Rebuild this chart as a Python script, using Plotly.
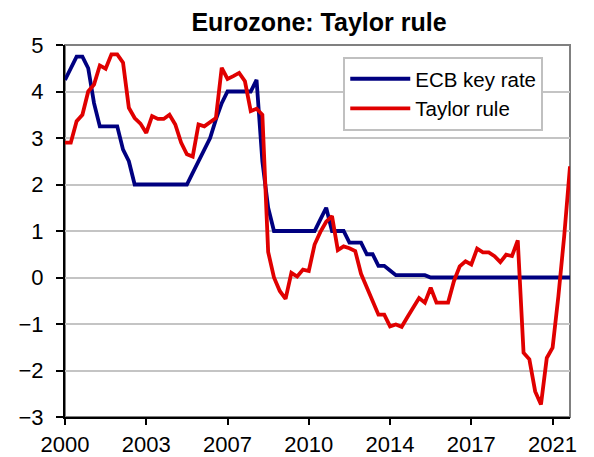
import plotly.graph_objects as go

# Quarterly observations, first quarter of 2000 onward (index = quarter number)
ecb_key_rate = [4.25, 4.5, 4.75, 4.75, 4.5, 3.75, 3.25, 3.25, 3.25, 3.25,
                2.75, 2.5, 2.0, 2.0, 2.0, 2.0, 2.0, 2.0, 2.0, 2.0,
                2.0, 2.0, 2.25, 2.5, 2.75, 3.0, 3.4, 3.75, 4.0, 4.0,
                4.0, 4.0, 4.0, 4.25, 2.5, 1.5, 1.0, 1.0, 1.0, 1.0,
                1.0, 1.0, 1.0, 1.0, 1.25, 1.5, 1.0, 1.0, 1.0, 0.75,
                0.75, 0.75, 0.5, 0.5, 0.25, 0.25, 0.15, 0.05, 0.05, 0.05,
                0.05, 0.05, 0.05, 0.0, 0.0, 0.0, 0.0, 0.0, 0.0, 0.0,
                0.0, 0.0, 0.0, 0.0, 0.0, 0.0, 0.0, 0.0, 0.0, 0.0,
                0.0, 0.0, 0.0, 0.0, 0.0, 0.0, 0.0, 0.0]

taylor_rule = [2.9, 2.9, 3.36, 3.5, 4.0, 4.15, 4.56, 4.49, 4.8, 4.8,
               4.62, 3.65, 3.43, 3.31, 3.11, 3.47, 3.41, 3.41, 3.5, 3.29,
               2.9, 2.65, 2.6, 3.29, 3.25, 3.34, 3.43, 4.51, 4.27, 4.33,
               4.4, 4.22, 3.58, 3.63, 3.5, 0.55, 0.0, -0.29, -0.46, 0.1,
               0.02, 0.17, 0.14, 0.71, 0.98, 1.2, 1.32, 0.59, 0.67, 0.63,
               0.57, 0.08, -0.23, -0.54, -0.8, -0.8, -1.05, -1.01, -1.06, -0.85,
               -0.65, -0.44, -0.54, -0.22, -0.54, -0.54, -0.54, -0.08, 0.24, 0.35,
               0.28, 0.62, 0.54, 0.54, 0.46, 0.33, 0.49, 0.46, 0.8, -1.62,
               -1.76, -2.45, -2.73, -1.73, -1.51, -0.4, 0.89, 2.39]

quarters = list(range(len(taylor_rule)))
tick_positions = [0, 14, 28, 42, 56, 70, 84]
tick_labels = ["2000", "2003", "2007", "2010", "2014", "2017", "2021"]
y_ticks = [-3, -2, -1, 0, 1, 2, 3, 4, 5]

FONT = "Liberation Sans, Arial, sans-serif"

fig = go.Figure()
fig.add_trace(go.Scatter(x=quarters, y=ecb_key_rate, mode="lines", name="ECB key rate",
                         line=dict(color="#000080", width=3.8)))
fig.add_trace(go.Scatter(x=quarters, y=taylor_rule, mode="lines", name="Taylor rule",
                         line=dict(color="#e00000", width=3.8)))

fig.update_layout(
    width=594, height=457,
    margin=dict(l=65, r=24, t=45, b=40, autoexpand=False),
    paper_bgcolor="white", plot_bgcolor="white",
    font=dict(family=FONT, color="black", size=22),
    title=dict(text="<b>Eurozone: Taylor rule</b>", x=(66 + 572) / 2 / 594, xanchor="center",
               y=1 - 22 / 457, yanchor="middle", font=dict(size=25, family=FONT, color="black")),
    showlegend=True,
    legend=dict(x=0.551, y=0.968, xanchor="left", yanchor="top",
                bordercolor="#c0c0c0", borderwidth=2, bgcolor="white",
                font=dict(size=20.5, family=FONT), itemwidth=60,
                tracegroupgap=0),
)
fig.update_xaxes(range=[0, len(quarters) - 1], tickmode="array", tickvals=tick_positions,
                 ticktext=tick_labels, showgrid=False, zeroline=False, automargin=False,
                 showline=True, linecolor="black", linewidth=2,
                 ticks="outside", ticklen=6, tickwidth=2, tickcolor="black",
                 tickfont=dict(size=22, family=FONT), ticklabelstandoff=1)
fig.update_yaxes(range=[-3, 5], tickmode="array", tickvals=y_ticks, automargin=False,
                 showgrid=True, gridcolor="#c4c4c4", gridwidth=2, zeroline=False,
                 showline=True, linecolor="black", linewidth=2,
                 ticks="outside", ticklen=7, tickwidth=2, tickcolor="black",
                 tickfont=dict(size=22, family=FONT), ticklabelstandoff=8)
# plot area border (top / right)
fig.add_shape(type="rect", xref="paper", yref="paper", x0=0, x1=1, y0=0, y1=1,
              line=dict(color="#808080", width=2), layer="below")

fig.write_html("out.html", config={"displayModeBar": False},
               post_script="document.body.style.margin='0';")
